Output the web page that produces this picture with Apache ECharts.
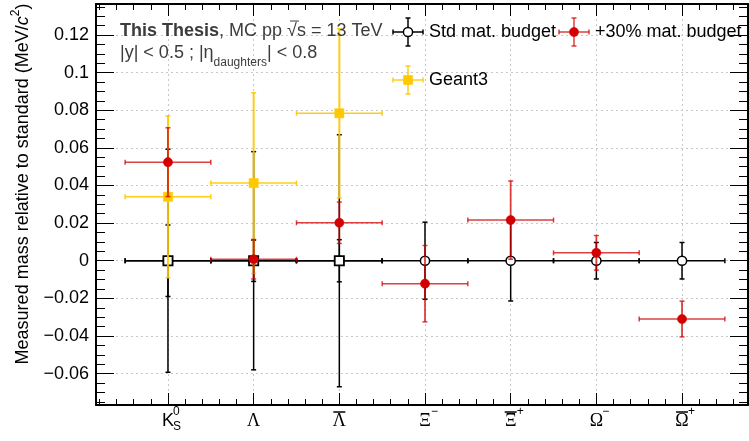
<!DOCTYPE html>
<html><head><meta charset="utf-8">
<script src="https://cdn.jsdelivr.net/npm/echarts@6/dist/echarts.min.js"></script>
<style>html,body{margin:0;padding:0;background:#fff}#c{width:749px;height:441px}</style>
</head><body><div id="c"></div>
<script>
// ---------- data ----------
const categories = ['K0S', 'Lambda', 'AntiLambda', 'XiMinus', 'AntiXiPlus', 'OmegaMinus', 'AntiOmegaPlus'];
const labelMain = ['K', 'Λ', 'Λ', 'Ξ', 'Ξ', 'Ω', 'Ω'];
const labelSup  = ['0', '', '', '−', '+', '−', '+'];
const labelSub  = ['S', '', '', '', '', '', ''];
const labelBar  = [false, false, true, false, true, false, true];

const stdValues   = [0, 0, 0, 0, 0, 0, 0];
const stdErrors   = [0.019, 0.011, 0.0112, 0.0205, 0.0214, 0.0097, 0.0097];
const plusValues  = [0.0524, 0.0008, 0.0202, -0.0122, 0.0216, 0.0042, -0.031];
const plusErrors  = [0.0183, 0.0105, 0.011, 0.0203, 0.0208, 0.0092, 0.0095];
const g3Values    = [0.034, 0.0413, 0.0784];
const g3Errors    = [0.043, 0.048, 0.045];
const g3RefValues = [0, 0, 0];
const g3RefErrors = [0.0593, 0.058, 0.067];
const binHalfWidth = 0.5;

const yMajorTicks = [-0.06, -0.04, -0.02, 0, 0.02, 0.04, 0.06, 0.08, 0.1, 0.12];
const yTickLabels = ['−0.06', '−0.04', '−0.02', '0', '0.02', '0.04', '0.06', '0.08', '0.1', '0.12'];

// ---------- layout ----------
const X_MIN = -0.84, X_MAX = 6.77;
const Y_MIN = -0.0767, Y_MAX = 0.1365;
const FONT = '"Liberation Sans", Arial, Helvetica, sans-serif';
const SERIF = '"Liberation Serif", "Times New Roman", serif';
const RED = '#d20000', RED_BAR = 'rgba(210,0,0,0.75)';
const YEL = '#ffc800', YEL_BAR = 'rgba(255,200,0,0.9)';

const xMajor = categories.map((c, i) => i);
const xMinor = [];
for (let k = Math.ceil(X_MIN / 0.2); k <= Math.floor(X_MAX / 0.2); k++) {
  const v = +(k * 0.2).toFixed(4);
  if (Math.abs(v - Math.round(v)) > 1e-6) xMinor.push(v);
}
const yMinor = [];
for (let k = Math.ceil(Y_MIN / 0.005); k <= Math.floor(Y_MAX / 0.005); k++) {
  const v = +(k * 0.005).toFixed(4);
  if (Math.abs(v / 0.02 - Math.round(v / 0.02)) > 1e-6) yMinor.push(v);
}

const gridLine = { show: true, lineStyle: { color: '#c8c8c8', width: 1, type: [2, 3] } };
function xAx(pos, major) {
  return {
    type: 'value', position: pos, min: X_MIN, max: X_MAX, gridIndex: 0,
    axisLine: { show: major, onZero: false, lineStyle: { color: '#000', width: 2 } },
    axisTick: { show: true, inside: true, length: major ? 12 : 6, customValues: major ? xMajor : xMinor,
      lineStyle: { color: '#000', width: 1 } },
    axisLabel: { show: false },
    splitLine: (major && pos === 'bottom') ? gridLine : { show: false }
  };
}
function yAx(pos, major) {
  return {
    type: 'value', position: pos, min: Y_MIN, max: Y_MAX, gridIndex: 0,
    axisLine: { show: major, onZero: false, lineStyle: { color: '#000', width: 2 } },
    axisTick: { show: true, inside: true, length: major ? 18 : 9, customValues: major ? yMajorTicks : yMinor,
      lineStyle: { color: '#000', width: 1 } },
    axisLabel: (major && pos === 'left') ? {
      show: true, customValues: yMajorTicks, margin: 7, color: '#000', fontSize: 18, fontFamily: FONT,
      formatter: v => { const i = yMajorTicks.findIndex(t => Math.abs(t - v) < 1e-9); return i >= 0 ? yTickLabels[i] : ''; }
    } : { show: false },
    splitLine: (major && pos === 'left') ? gridLine : { show: false }
  };
}

function errGroup(c, t, b, l, r, barColor, marker, vw) {
  const ls = { stroke: barColor, lineWidth: 1.5 };
  const vs = { stroke: barColor, lineWidth: vw || 1.5 };
  const cap = 2.5;
  const ch = [
    { type: 'line', shape: { x1: c[0], y1: t, x2: c[0], y2: b }, style: vs },
    { type: 'line', shape: { x1: c[0] - cap, y1: t, x2: c[0] + cap, y2: t }, style: ls },
    { type: 'line', shape: { x1: c[0] - cap, y1: b, x2: c[0] + cap, y2: b }, style: ls },
    { type: 'line', shape: { x1: l, y1: c[1], x2: r, y2: c[1] }, style: ls },
    { type: 'line', shape: { x1: l, y1: c[1] - cap, x2: l, y2: c[1] + cap }, style: ls },
    { type: 'line', shape: { x1: r, y1: c[1] - cap, x2: r, y2: c[1] + cap }, style: ls }
  ];
  if (marker.shape === 'circle') {
    ch.push({ type: 'circle', shape: { cx: c[0], cy: c[1], r: 4.6 },
      style: { fill: marker.fill, stroke: marker.stroke, lineWidth: marker.lw } });
  } else {
    ch.push({ type: 'rect', shape: { x: c[0] - 4.6, y: c[1] - 4.6, width: 9.2, height: 9.2 },
      style: { fill: marker.fill, stroke: marker.stroke, lineWidth: marker.lw } });
  }
  return ch;
}

function errSeries(name, vals, errs, barColor, marker, z, vw) {
  return {
    type: 'custom', name, xAxisIndex: 0, yAxisIndex: 0, z, clip: false,
    data: vals.map((v, i) => [i, v, errs[i]]),
    renderItem(params, api) {
      const x = api.value(0), y = api.value(1), e = api.value(2);
      const c = api.coord([x, y]);
      const t = api.coord([x, y + e])[1], b = api.coord([x, y - e])[1];
      const l = api.coord([x - binHalfWidth, y])[0], r = api.coord([x + binHalfWidth, y])[0];
      return { type: 'group', children: errGroup(c, t, b, l, r, barColor, marker, vw) };
    }
  };
}

const mStd = { shape: 'circle', fill: '#fff', stroke: '#000', lw: 1.5 };
const mRef = { shape: 'rect', fill: '#fff', stroke: '#000', lw: 1.8 };
const mG3  = { shape: 'rect', fill: YEL, stroke: YEL, lw: 0.5 };
const mRed = { shape: 'circle', fill: RED, stroke: RED, lw: 0.5 };

function legendItem(cx, cy, barColor, marker, label) {
  return {
    type: 'group', z: 100,
    children: errGroup([cx, cy], cy - 14, cy + 14, cx - 15, cx + 15, barColor, marker).concat([
      { type: 'text', x: cx + 21, y: cy, style: { text: label, font: '18px ' + FONT, fill: '#000', verticalAlign: 'middle' } }
    ])
  };
}

const chart = echarts.init(document.getElementById('c'), null, { renderer: 'canvas' });
chart.setOption({
  animation: false,
  backgroundColor: '#fff',
  grid: { left: 96, right: 1, top: 4, bottom: 36, containLabel: false },
  xAxis: [xAx('bottom', true), xAx('bottom', false), xAx('top', true), xAx('top', false)],
  yAxis: [yAx('left', true), yAx('left', false), yAx('right', true), yAx('right', false)],
  series: [
    errSeries('Std mat. budget', stdValues, stdErrors, '#000', mStd, 2),
    errSeries('Geant3 reference', g3RefValues, g3RefErrors, '#000', mRef, 3),
    errSeries('Geant3', g3Values, g3Errors, YEL_BAR, mG3, 4, 2),
    errSeries('+30% mat. budget', plusValues, plusErrors, RED_BAR, mRed, 5, 1.8)
  ]
});

// ---------- labels / legend ----------
const gfx = [];
categories.forEach((c, i) => {
  const px = chart.convertToPixel({ xAxisIndex: 0 }, i);
  const isK = labelMain[i] === 'K';
  const cy = 421;
  gfx.push({ type: 'text', x: px, y: cy, style: { text: labelMain[i], font: '18px ' + (isK ? FONT : SERIF), fill: '#000', align: 'center', verticalAlign: 'middle' } });
  if (labelSup[i]) gfx.push({ type: 'text', x: px + (isK ? 5 : 6), y: cy - 9, style: { text: labelSup[i], font: '12px ' + FONT, fill: '#000', align: 'left', verticalAlign: 'middle' } });
  if (labelSub[i]) gfx.push({ type: 'text', x: px + 5, y: cy + 6, style: { text: labelSub[i], font: '12px ' + FONT, fill: '#000', align: 'left', verticalAlign: 'middle' } });
  if (labelBar[i]) gfx.push({ type: 'line', shape: { x1: px - 6, y1: cy - 9, x2: px + 6, y2: cy - 9 }, style: { stroke: '#000', lineWidth: 1.5 } });
});
gfx.push({
  type: 'text', x: 21, y: 184, rotation: Math.PI / 2,
  style: {
    text: '{n|Measured mass relative to standard (MeV/}{i|c}{s|2}{n|)}', align: 'center', verticalAlign: 'middle',
    rich: {
      n: { font: '18px ' + FONT, fill: '#000', lineHeight: 22, verticalAlign: 'bottom' },
      i: { font: 'italic 18px ' + FONT, fill: '#000', lineHeight: 22, verticalAlign: 'bottom' },
      s: { font: '12px ' + FONT, fill: '#000', lineHeight: 12, verticalAlign: 'top', padding: [0, 0, 10, 0] }
    }
  }
});
gfx.push({
  type: 'text', x: 120, y: 31, z: 100,
  style: {
    text: '{b|This Thesis}{n|, MC pp √s = 13 TeV}', verticalAlign: 'middle',
    rich: { b: { font: 'bold 18px ' + FONT, fill: '#3c3c3c' }, n: { font: '18px ' + FONT, fill: '#3c3c3c' } }
  }
});
gfx.push({ type: 'line', z: 100, shape: { x1: 290, y1: 21, x2: 299, y2: 21 }, style: { stroke: '#3c3c3c', lineWidth: 1 } });
gfx.push({
  type: 'text', x: 120, y: 44, z: 100,
  style: {
    text: '{n||y| < 0.5 ; |η}{s|daughters}{n|| < 0.8}', verticalAlign: 'top',
    rich: {
      n: { font: '18px ' + FONT, fill: '#3c3c3c', lineHeight: 20, verticalAlign: 'top' },
      s: { font: '12px ' + FONT, fill: '#3c3c3c', lineHeight: 12, verticalAlign: 'top', padding: [13, 0, 0, 0] }
    }
  }
});
gfx.push(legendItem(408, 32, '#000', mStd, 'Std mat. budget'));
gfx.push(legendItem(574, 32, RED_BAR, mRed, '+30% mat. budget'));
gfx.push(legendItem(408, 80, YEL_BAR, mG3, 'Geant3'));
chart.setOption({ graphic: gfx });
</script>
</body></html>
